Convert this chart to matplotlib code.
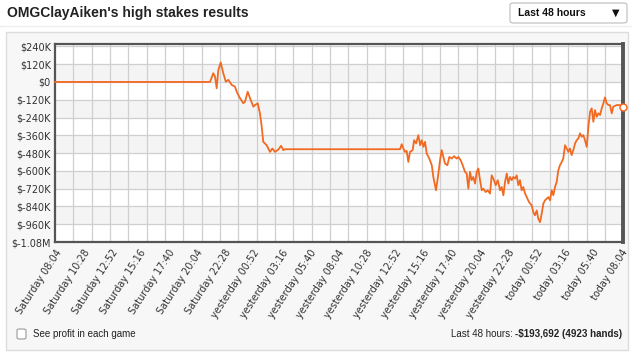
import numpy as np
import matplotlib
matplotlib.use('Agg')
import matplotlib.pyplot as plt
from matplotlib.patches import FancyBboxPatch, Rectangle

# hours since Saturday 08:04, cumulative profit in $K
hours = [0.0, 13.15, 13.42, 13.57, 13.71, 13.85, 14.05, 14.27, 14.48, 14.70, 14.98,
         15.26, 15.41, 15.69, 15.97, 16.11, 16.34, 16.54, 16.82, 16.96, 17.19,
         17.38, 17.53, 17.66, 17.95, 18.23, 18.43, 18.66, 18.94, 19.17, 19.36,
         19.50, 29.26, 29.40, 29.54, 29.68, 29.82, 29.96, 30.10, 30.33, 30.45,
         30.62, 30.81, 30.96, 31.10, 31.24, 31.38, 31.52, 31.74, 31.95, 32.08,
         32.31, 32.51, 32.65, 32.79, 32.93, 33.07, 33.27, 33.44, 33.64, 33.84,
         34.06, 34.20, 34.40, 34.57, 34.77, 34.91, 35.05, 35.19, 35.33, 35.47,
         35.62, 35.76, 35.90, 36.04, 36.19, 36.32, 36.52, 36.69, 36.89, 37.03,
         37.17, 37.37, 37.54, 37.74, 37.88, 38.02, 38.16, 38.31, 38.44, 38.58,
         38.73, 38.86, 39.01, 39.15, 39.29, 39.43, 39.57, 39.71, 39.86, 40.00,
         40.19, 40.42, 40.56, 40.70, 40.85, 40.98, 41.13, 41.27, 41.41, 41.55,
         41.70, 41.83, 41.98, 42.12, 42.26, 42.40, 42.54, 42.68, 42.82, 42.97,
         43.10, 43.25, 43.39, 43.53, 43.67, 43.81, 43.95, 44.10, 44.24, 44.38,
         44.52, 44.66, 44.80, 44.94, 45.09, 45.23, 45.37, 45.51, 45.65, 45.79,
         45.94, 46.08, 46.22, 46.36, 46.50, 46.64, 46.78, 46.93, 47.06, 47.21,
         47.34, 47.63, 47.91, 48.19]
profit_k = [0, 0, 59, 36, -43, 81, 132, 59, 2, 14, -20,
            -32, -66, -110, -144, -133, -66, -110, -167, -156, -144,
            -212, -303, -404, -427, -472, -449, -472, -456, -431, -460,
            -454, -454, -420, -449, -472, -465, -540, -472, -460, -393,
            -415, -359, -427, -393, -438, -404, -483, -517, -562, -641,
            -731, -618, -528, -460, -506, -550, -562, -506, -517, -501,
            -517, -506, -528, -562, -607, -618, -720, -607, -663, -641,
            -686, -607, -584, -663, -731, -720, -743, -731, -753, -630,
            -652, -697, -663, -731, -709, -765, -675, -618, -686, -641,
            -663, -641, -652, -630, -697, -663, -731, -709, -753, -777,
            -810, -833, -878, -900, -867, -923, -946, -889, -821, -799,
            -787, -777, -799, -731, -765, -709, -675, -596, -562, -540,
            -517, -427, -449, -472, -449, -494, -460, -415, -393, -381,
            -347, -370, -359, -393, -438, -303, -201, -178, -269, -190,
            -235, -212, -223, -178, -144, -104, -144, -156, -156, -212,
            -167, -156, -156, -167]

y_ticks = [240, 120, 0, -120, -240, -360, -480, -600, -720, -840, -960, -1080]
y_labels = ['$240K', '$120K', '$0', '$-120K', '$-240K', '$-360K', '$-480K',
            '$-600K', '$-720K', '$-840K', '$-960K', '$-1.08M']
x_ticks = [i * 2.4 for i in range(21)]
x_labels = ['Saturday 08:04', 'Saturday 10:28', 'Saturday 12:52', 'Saturday 15:16',
            'Saturday 17:40', 'Saturday 20:04', 'Saturday 22:28', 'yesterday 00:52',
            'yesterday 03:16', 'yesterday 05:40', 'yesterday 08:04', 'yesterday 10:28',
            'yesterday 12:52', 'yesterday 15:16', 'yesterday 17:40', 'yesterday 20:04',
            'yesterday 22:28', 'today 00:52', 'today 03:16', 'today 05:40', 'today 08:04']

W, H = 632, 355
fig = plt.figure(figsize=(W / 100, H / 100), dpi=100)
fig.patch.set_facecolor('white')

# outer panel
panel = Rectangle((6 / W, 1 - 350 / H), 622 / W, 318 / H, transform=fig.transFigure,
                  facecolor='#f7f7f7', edgecolor='#dcdcdc', lw=1, zorder=-5)
fig.patches.append(panel)
fig.add_artist(plt.Line2D([0, 1], [1 - 26 / H, 1 - 26 / H], transform=fig.transFigure,
                          color='#efefef', lw=1, zorder=-5))

# title and dropdown
fig.text(7 / W, 1 - 13 / H, "OMGClayAiken's high stakes results", fontsize=10,
         fontweight='bold', family='Liberation Sans', color='#222222', va='center')
drop = FancyBboxPatch((510 / W, 1 - 23 / H), 117 / W, 20 / H, transform=fig.transFigure,
                      boxstyle='round,pad=0,rounding_size=0.006', facecolor='white',
                      edgecolor='#bbbbbb', lw=0.8, zorder=-4)
fig.patches.append(drop)
fig.text(518 / W, 1 - 13 / H, 'Last 48 hours', fontsize=7.5, fontweight='bold',
         family='Liberation Sans', color='#111111', va='center')
fig.text(616 / W, 1 - 13 / H, '\u25bc', fontsize=7, color='#111111', va='center', ha='center',
         family='DejaVu Sans')

ax = fig.add_axes([55 / W, 1 - 242 / H, 568.3 / W, 198 / H])
ax.set_facecolor('white')
xmin, xmax = 0, 48.19
ax.set_xlim(xmin, xmax)
ax.set_ylim(-1080, 256)

# alternating bands
for i in range(len(y_ticks) - 1):
    if i % 2 == 1:
        ax.axhspan(y_ticks[i + 1], y_ticks[i], color='#f4f4f4', zorder=0, lw=0)

ax.set_yticks(y_ticks)
ax.set_yticklabels(y_labels)
ax.set_xticks(x_ticks)
ax.set_xticklabels(x_labels, rotation=57, ha='right', rotation_mode='anchor')
ax.set_xticks(np.linspace(xmin, xmax, 32)[1:-1], minor=True)
ax.tick_params(axis='both', which='both', length=0, labelsize=7, labelcolor='#333333')
ax.tick_params(axis='y', pad=3)
ax.tick_params(axis='x', pad=4)
ax.grid(which='minor', axis='x', color='#cfcfcf', lw=0.9)
ax.grid(which='major', axis='y', color='#cfcfcf', lw=0.9)
ax.set_axisbelow(True)
for s in ['left', 'top', 'bottom']:
    ax.spines[s].set_color('#555555')
    ax.spines[s].set_linewidth(1.6)
ax.spines['right'].set_color('#555555')
ax.spines['right'].set_linewidth(2.8)

ax.plot(hours, profit_k, color='#f26a21', lw=1.3, zorder=3, clip_on=False)
ax.plot(hours[-1:], profit_k[-1:], 'o', ms=5, mfc='white', mec='#f26a21', mew=1.1,
        zorder=4, clip_on=False)

# footer
cb = FancyBboxPatch((17 / W, 1 - 339 / H), 9 / W, 10 / H, transform=fig.transFigure,
                    boxstyle='round,pad=0,rounding_size=0.004', facecolor='white',
                    edgecolor='#999999', lw=0.8)
fig.patches.append(cb)
fig.text(33 / W, 1 - 334 / H, 'See profit in each game', fontsize=7,
         family='Liberation Sans', color='#222222', va='center')
bold_part = fig.text(622 / W, 1 - 334 / H, '-$193,692 (4923 hands)', fontsize=7,
                     fontweight='bold', family='Liberation Sans', color='#222222',
                     va='center', ha='right')
fig.canvas.draw()
bb = bold_part.get_window_extent()
fig.text((bb.x0 - 2) / W, 1 - 334 / H, 'Last 48 hours:', fontsize=7,
         family='Liberation Sans', color='#222222', va='center', ha='right')

fig.savefig('out.png', dpi=100)
